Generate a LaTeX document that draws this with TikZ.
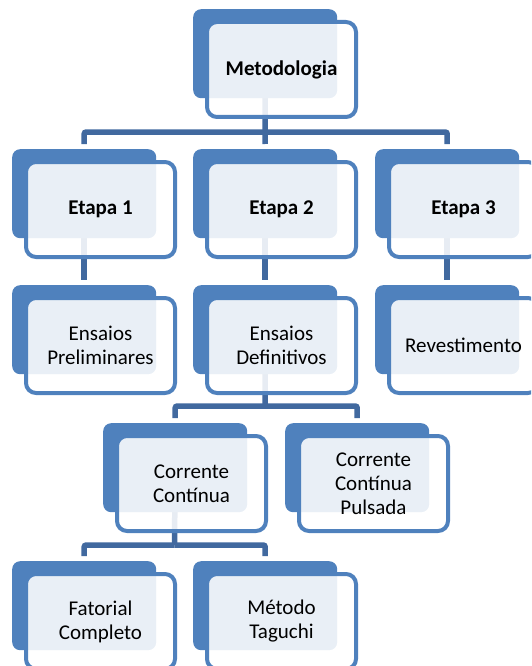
\documentclass[tikz,border=0pt]{standalone}
\usepackage{fontspec}
\setmainfont{Carlito}
\usetikzlibrary{calc}
\definecolor{accblue}{HTML}{4F81BD}
\definecolor{connblue}{HTML}{41699F}
\pgfdeclarelayer{background}
\pgfsetlayers{background,main}
\newcommand\smartnode[4]{%
  \node[backbox] (#1-b) at (#2,#3) {};
  \node[frontbox] (#1) at ({#2+88.5},{#3+60.5}) {#4};}
\begin{document}
\begin{tikzpicture}[x=1pt,y=-1pt,
  backbox/.style={fill=accblue, rounded corners=8pt, minimum width=144pt,
    minimum height=89pt, inner sep=0pt, anchor=north west, draw=none},
  frontbox/.style={draw=accblue, line width=4pt, fill=white, fill opacity=0.88,
    text opacity=1, rounded corners=10pt, minimum width=149pt, minimum height=95pt,
    inner sep=0pt, align=center, font=\fontsize{21}{24}\selectfont, text=black},
  conn/.style={draw=connblue, line width=5.5pt, rounded corners=2pt}]
\useasboundingbox (0,0) rectangle (531,666);
\clip (0,0) rectangle (531,666);
\smartnode{m}{193}{9}{\textbf{Metodologia}}
\smartnode{e1}{12}{149}{\textbf{Etapa 1}}
\smartnode{e2}{193}{149}{\textbf{Etapa 2}}
\smartnode{e3}{375}{149}{\textbf{Etapa 3}}
\smartnode{p1}{12}{285}{Ensaios\\Preliminares}
\smartnode{p2}{193}{285}{Ensaios\\Definitivos}
\smartnode{p3}{375}{285}{Revestimento}
\smartnode{c1}{103}{423}{Corrente\\Contínua}
\smartnode{c2}{285}{423}{Corrente\\Contínua\\Pulsada}
\smartnode{f1}{12}{561}{Fatorial\\Completo}
\smartnode{f2}{193}{561}{Método\\Taguchi}
\coordinate (j1) at (265,132);
\coordinate (j2) at (265,406);
\coordinate (j3) at (174.5,545);
\begin{pgfonlayer}{background}
\draw[conn] (m-b.center) -- (j1);
\draw[conn, shorten >=5pt] (j1) -| (e1-b.north);
\draw[conn, shorten >=5pt] (j1) -- (e2-b.north);
\draw[conn, shorten >=5pt] (j1) -| (e3-b.north);
\draw[conn, shorten >=5pt] (e1-b.center) -- (p1-b.north);
\draw[conn, shorten >=5pt] (e2-b.center) -- (p2-b.north);
\draw[conn, shorten >=5pt] (e3-b.center) -- (p3-b.north);
\draw[conn] (p2-b.center) -- (j2);
\draw[conn, shorten >=5pt] (j2) -| (c1-b.north);
\draw[conn, shorten >=5pt] (j2) -| (c2-b.north);
\draw[conn] (c1-b.center) -- (j3);
\draw[conn, shorten >=5pt] (j3) -| (f1-b.north);
\draw[conn, shorten >=5pt] (j3) -| (f2-b.north);
\end{pgfonlayer}
\end{tikzpicture}
\end{document}
